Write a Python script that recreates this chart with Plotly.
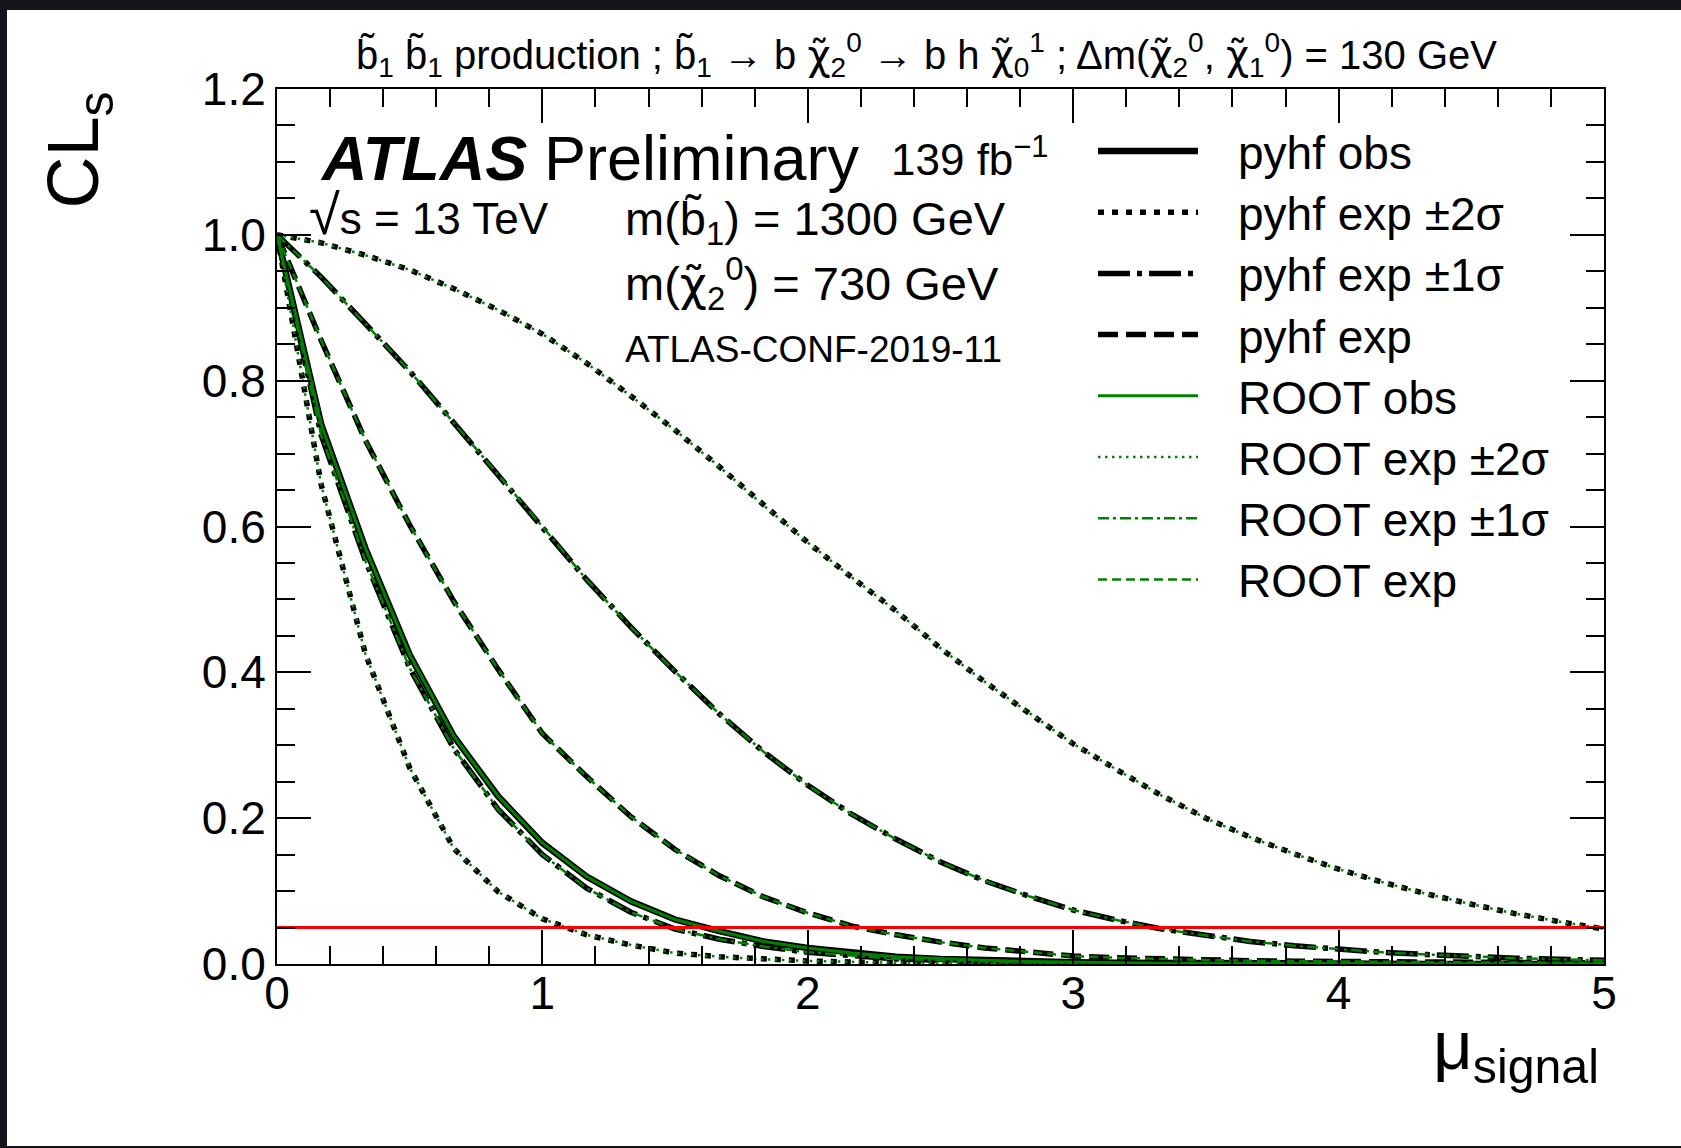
import plotly.graph_objects as go

# ---------------- data ----------------
mu_signal = [0.0, 0.1667, 0.3333, 0.5, 0.6667, 0.8333, 1.0, 1.1667, 1.3333, 1.5,
             1.6667, 1.8333, 2.0, 2.1667, 2.3333, 2.5, 2.6667, 2.8333, 3.0, 3.1667,
             3.3333, 3.5, 3.6667, 3.8333, 4.0, 4.1667, 4.3333, 4.5, 4.6667, 4.8333, 5.0]

pyhf_obs = [1.0, 0.74, 0.57, 0.424, 0.312, 0.230, 0.166, 0.120, 0.086, 0.061,
            0.045, 0.031, 0.022, 0.015, 0.010, 0.007, 0.005, 0.0035, 0.0025, 0.0017,
            0.0012, 0.0008, 0.0006, 0.0004, 0.0003, 0.0002, 0.00015, 0.0001, 0.0001, 0.0001, 0.0001]

pyhf_exp_m2 = [1.0, 0.657, 0.425, 0.269, 0.158, 0.099, 0.062, 0.040, 0.026, 0.015,
               0.010, 0.0065, 0.0042, 0.0027, 0.0017, 0.0010, 0.0007, 0.0004, 0.0003, 0.0002,
               0.0001, 0.0001, 0.0001, 0.0001, 0.0001, 0.0001, 0.0001, 0.0001, 0.0001, 0.0001, 0.0001]

pyhf_exp_m1 = [1.0, 0.725, 0.553, 0.406, 0.295, 0.212, 0.150, 0.104, 0.071, 0.048,
               0.034, 0.024, 0.016, 0.011, 0.007, 0.005, 0.003, 0.002, 0.0015, 0.0010,
               0.0007, 0.0005, 0.0003, 0.0002, 0.0002, 0.0001, 0.0001, 0.0001, 0.0001, 0.0001, 0.0001]

pyhf_exp = [1.0, 0.855, 0.718, 0.602, 0.497, 0.404, 0.316, 0.257, 0.202, 0.157,
            0.121, 0.092, 0.070, 0.052, 0.040, 0.030, 0.022, 0.016, 0.011, 0.0085,
            0.0068, 0.0055, 0.0045, 0.0038, 0.0032, 0.0028, 0.0025, 0.0022, 0.0020, 0.0018, 0.0016]

pyhf_exp_p1 = [1.0, 0.942, 0.878, 0.813, 0.742, 0.671, 0.600, 0.527, 0.462, 0.401,
               0.343, 0.291, 0.245, 0.205, 0.171, 0.140, 0.114, 0.093, 0.074, 0.060,
               0.048, 0.039, 0.031, 0.025, 0.020, 0.016, 0.013, 0.010, 0.008, 0.0065, 0.005]

pyhf_exp_p2 = [1.0, 0.989, 0.972, 0.952, 0.926, 0.897, 0.864, 0.824, 0.779, 0.732,
               0.682, 0.629, 0.578, 0.530, 0.484, 0.433, 0.387, 0.344, 0.302, 0.266,
               0.231, 0.200, 0.174, 0.151, 0.130, 0.112, 0.096, 0.082, 0.069, 0.058, 0.048]

root_obs = list(pyhf_obs)
root_exp_m2 = list(pyhf_exp_m2)
root_exp_m1 = list(pyhf_exp_m1)
root_exp = list(pyhf_exp)
root_exp_p1 = list(pyhf_exp_p1)
root_exp_p2 = list(pyhf_exp_p2)

cls_threshold = 0.05
x_ticks = [0, 1, 2, 3, 4, 5]
y_ticks = [0.0, 0.2, 0.4, 0.6, 0.8, 1.0, 1.2]

legend_labels = ["pyhf obs", "pyhf exp ±2σ", "pyhf exp ±1σ", "pyhf exp",
                 "ROOT obs", "ROOT exp ±2σ", "ROOT exp ±1σ", "ROOT exp"]

# ---------------- styles ----------------
BLACK_W = 5.5
GREEN_W = 2.5
GREEN = "#008000"
DASH = {
    "b_solid": "solid",
    "b_dot": "6px,8px",
    "b_dashdot": "32px,7px,5px,7px",
    "b_dash": "20px,8px",
    "g_solid": "solid",
    "g_dot": "2.5px,4.5px",
    "g_dashdot": "11px,4px,3px,4px",
    "g_dash": "9px,5px",
}

FW, FH = 1681, 1148
L, R, T, B = 277, 1604, 89, 964
FONT = "Liberation Sans, Arial"
CHI = "<span style=\"font-family:DejaVu Sans\">χ̃</span>"


def px(X):
    return (X - L) / (R - L)


def py(Y):
    return (B - Y) / (B - T)


fig = go.Figure()


def add_curve(y, color, width, dash):
    fig.add_trace(go.Scatter(x=mu_signal, y=y, mode="lines",
                             line=dict(color=color, width=width, dash=dash),
                             showlegend=False, hoverinfo="skip"))


# pyhf (black, thick) first
for arr in (pyhf_exp_m2, pyhf_exp_p2):
    add_curve(arr, "black", BLACK_W, DASH["b_dot"])
for arr in (pyhf_exp_m1, pyhf_exp_p1):
    add_curve(arr, "black", BLACK_W, DASH["b_dashdot"])
add_curve(pyhf_exp, "black", BLACK_W, DASH["b_dash"])
add_curve(pyhf_obs, "black", BLACK_W + 1, DASH["b_solid"])

# ROOT (green, thin) on top
for arr in (root_exp_m2, root_exp_p2):
    add_curve(arr, GREEN, GREEN_W, DASH["g_dot"])
for arr in (root_exp_m1, root_exp_p1):
    add_curve(arr, GREEN, GREEN_W, DASH["g_dashdot"])
add_curve(root_exp, GREEN, GREEN_W, DASH["g_dash"])
add_curve(root_obs, GREEN, GREEN_W + 0.5, DASH["g_solid"])

# CLs = 0.05 line
fig.add_trace(go.Scatter(x=[x_ticks[0], x_ticks[-1]], y=[cls_threshold, cls_threshold],
                         mode="lines", line=dict(color="#ff0000", width=3),
                         showlegend=False, hoverinfo="skip"))

shapes = []
# white page on dark border
shapes.append(dict(type="rect", xref="paper", yref="paper",
                   x0=px(7), x1=px(FW + 5), y0=py(1146), y1=py(10),
                   fillcolor="white", line=dict(width=0), layer="below"))

# manual legend
leg_styles = [("black", BLACK_W + 1, DASH["b_solid"]), ("black", BLACK_W, DASH["b_dot"]),
              ("black", BLACK_W, DASH["b_dashdot"]), ("black", BLACK_W, DASH["b_dash"]),
              (GREEN, GREEN_W + 0.5, DASH["g_solid"]), (GREEN, GREEN_W, DASH["g_dot"]),
              (GREEN, GREEN_W, DASH["g_dashdot"]), (GREEN, GREEN_W, DASH["g_dash"])]
leg_y0 = 151
leg_dy = 61.2
annotations = []
for i, (lab, (col, w, d)) in enumerate(zip(legend_labels, leg_styles)):
    yy = leg_y0 + i * leg_dy
    shapes.append(dict(type="line", xref="paper", yref="paper",
                       x0=px(1098), x1=px(1198), y0=py(yy), y1=py(yy),
                       line=dict(color=col, width=w, dash=d)))
    annotations.append(dict(text=lab, xref="paper", yref="paper",
                            x=px(1236), y=py(yy + 2), xanchor="left", yanchor="middle",
                            showarrow=False, font=dict(size=46, color="black", family=FONT)))


def ann(text, X, Y, size, xanchor="left", yanchor="middle", family=FONT, angle=0):
    annotations.append(dict(text=text, xref="paper", yref="paper", x=px(X), y=py(Y),
                            xanchor=xanchor, yanchor=yanchor, showarrow=False,
                            textangle=angle,
                            font=dict(size=size, color="black", family=family)))


ann("b̃<sub>1</sub> b̃<sub>1</sub> production ; b̃<sub>1</sub> → b " + CHI + "<sub>2</sub><sup>0</sup> → b h "
    + CHI + "<sub>0</sub><sup>1</sup> ; Δm(" + CHI + "<sub>2</sub><sup>0</sup>, " + CHI
    + "<sub>1</sub><sup>0</sup>) = 130 GeV",
    926, 55, 40, xanchor="center")
ann("<b><i>ATLAS</i></b>", 318, 158, 63)
ann("Preliminary", 542, 158, 63)
ann("139 fb<sup>−1</sup>", 889, 156, 44)
ann("<span style=\"font-size:56px\">√</span>s = 13 TeV", 307, 214, 44)
ann("m(b̃<sub>1</sub>) = 1300 GeV", 623, 222, 47)
ann("m(" + CHI + "<sub>2</sub><sup>0</sup>) = 730 GeV", 623, 283, 47)
ann("ATLAS-CONF-2019-11", 623, 349, 37)
ann("CL<sub>s</sub>", 78, 90, 72, xanchor="center", yanchor="top", angle=-90)
ann("μ<sub>signal</sub>", 1601, 1050, 69, xanchor="right")

fig.update_layout(
    width=FW, height=FH,
    margin=dict(l=L, r=FW - R, t=T, b=FH - B, pad=0),
    paper_bgcolor="#14151b",
    plot_bgcolor="white",
    shapes=shapes,
    annotations=annotations,
    showlegend=False,
    font=dict(family=FONT, color="black"),
)

axis_common = dict(showgrid=False, zeroline=False, showline=True, linecolor="black",
                   linewidth=2, mirror="ticks", ticks="inside", ticklen=34, tickwidth=2,
                   tickcolor="black", tickfont=dict(size=46, color="black", family=FONT))

fig.update_xaxes(range=[0, 5], tickvals=x_ticks, ticktext=[str(v) for v in x_ticks],
                 minor=dict(dtick=0.2, ticks="inside", ticklen=18, tickwidth=2, tickcolor="black"),
                 ticklabelstandoff=-12, **axis_common)
fig.update_yaxes(range=[0, 1.2], tickvals=y_ticks, ticktext=[f"{v:.1f}" for v in y_ticks],
                 minor=dict(dtick=0.05, ticks="inside", ticklen=18, tickwidth=2, tickcolor="black"),
                 ticklabelstandoff=0, **axis_common)

fig.write_html("out.html",
               config={"displayModeBar": False},
               post_script="document.body.style.margin='0px';"
                           "document.body.style.padding='0px';"
                           "document.body.style.background='#14151b';"
                           "document.body.style.overflow='hidden';")
